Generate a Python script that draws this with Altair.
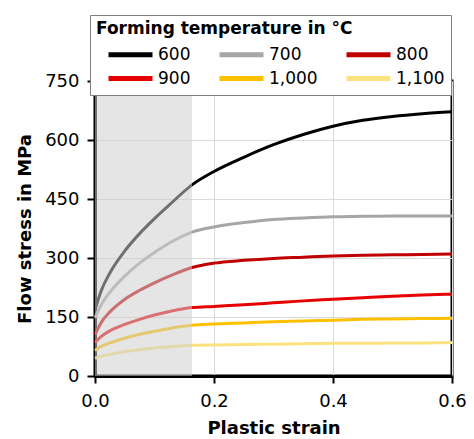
import altair as alt
import pandas as pd

# ---- data ----
strain = [0, 0.01, 0.025, 0.05, 0.075, 0.1, 0.125, 0.163, 0.2, 0.25, 0.3, 0.35, 0.4, 0.45, 0.5, 0.55, 0.6]
temps = ["600", "700", "800", "900", "1,000", "1,100"]
s600 = [168, 215, 262, 318, 362, 400, 435, 486, 520, 556, 588, 614, 635, 650, 660, 667, 672]
s700 = [148, 180, 213, 254, 287, 314, 338, 366, 379, 390, 398, 402, 405, 406, 407, 407, 407]
s800 = [105, 135, 163, 195, 218, 237, 254, 276, 287, 294, 299, 302, 305, 307, 308, 309, 310]
s900 = [85, 100, 115, 131, 144, 155, 164, 174, 177, 181, 186, 191, 195, 199, 203, 206, 208]
s1000 = [65, 75, 84, 96, 106, 114, 121, 129, 132, 135, 138, 140, 142, 144, 145, 146, 147]
s1100 = [45, 50, 55, 62, 67, 71, 74, 78, 79, 80, 81, 82, 83, 83, 84, 84, 85]
series = [s600, s700, s800, s900, s1000, s1100]
colors = ["#000000", "#a6a6a6", "#c00000", "#e60000", "#ffc000", "#fbe27f"]
shade = [0.0, 0.163]
x_ticks = [0, 0.2, 0.4, 0.6]
y_ticks = [0, 150, 300, 450, 600, 750]

rows = []
for t, vals in zip(temps, series):
    for x, v in zip(strain, vals):
        rows.append({"strain": x, "stress": v, "temp": t})
df = pd.DataFrame(rows)
shade_df = pd.DataFrame({"x0": [shade[0]], "x1": [shade[1]], "y0": [y_ticks[0]], "y1": [y_ticks[-1]]})

FONT = "DejaVu Sans"
xscale = alt.Scale(domain=[0, 0.6], nice=False)
yscale = alt.Scale(domain=[0, 750], nice=False)
xaxis = alt.Axis(values=x_ticks, format=".1f", title="Plastic strain", labelFontSize=18,
                 tickSize=7, labelPadding=9, titlePadding=9, labelFlush=False)
yaxis = alt.Axis(values=y_ticks, title="Flow stress in MPa", labelFontSize=18,
                 tickSize=8, labelPadding=8, titlePadding=10, labelFlush=False)

lines = alt.Chart(df).mark_line(strokeWidth=3, interpolate="monotone").encode(
    x=alt.X("strain:Q", scale=xscale, axis=xaxis),
    y=alt.Y("stress:Q", scale=yscale, axis=yaxis),
    color=alt.Color(
        "temp:N",
        sort=temps,
        scale=alt.Scale(domain=temps, range=colors),
        legend=alt.Legend(
            orient="none", legendX=-5, legendY=-66, columns=3, direction="horizontal",
            title="Forming temperature in °C", titleFont=FONT, titleFontSize=17,
            titleFontWeight="bold", titleColor="black", titlePadding=6, titleLimit=400,
            labelFont=FONT, labelFontSize=17, labelColor="black",
            symbolType="M-2.75,0H2.75", symbolSize=256, symbolStrokeWidth=5,
            symbolOffset=24, labelOffset=17, columnPadding=16, rowPadding=3,
            padding=6, strokeColor="#808080", fillColor="white",
        ),
    ),
)

overlay = alt.Chart(shade_df).mark_rect(color="#cfcfcf", opacity=0.54).encode(
    x=alt.X("x0:Q", scale=xscale, title="Plastic strain"),
    x2="x1:Q",
    y=alt.Y("y0:Q", scale=yscale, title="Flow stress in MPa"),
    y2="y1:Q",
)

chart = alt.layer(lines, overlay).properties(
    width=357, height=295,
    autosize=alt.AutoSizeParams(type="none"),
    padding={"left": 87, "top": 73, "right": 14, "bottom": 62},
    background="white",
).configure_view(
    stroke="black", strokeWidth=3
).configure_axis(
    domainColor="black", domainWidth=3, tickColor="black", tickWidth=2,
    gridColor="#dadada", gridWidth=1,
    labelFont=FONT, labelColor="black",
    titleFont=FONT, titleColor="black", titleFontWeight="bold", titleFontSize=18,
)

chart.save("out.html", embed_options={"renderer": "svg", "actions": False})
